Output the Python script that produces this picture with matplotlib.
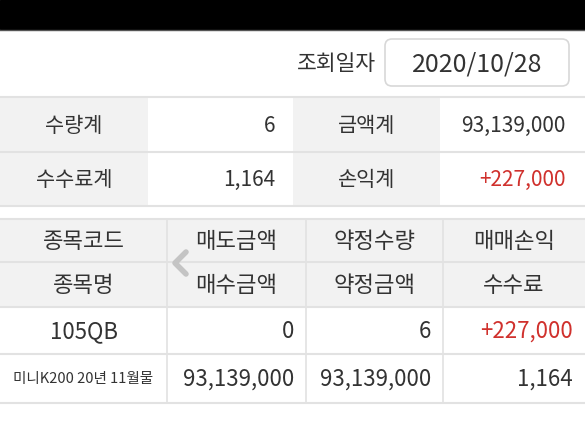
import matplotlib
matplotlib.use("Agg")
import matplotlib.pyplot as plt
from matplotlib.patches import Rectangle, FancyBboxPatch

plt.rcParams["font.family"] = ["Noto Sans CJK KR", "DejaVu Sans"]

# data
query_label = "조회일자"
query_date = "2020/10/28"

summary_labels = [["수량계", "금액계"], ["수수료계", "손익계"]]
summary_values = [["6", "93,139,000"], ["1,164", "+227,000"]]
summary_red = [[False, False], [False, True]]

header_top = ["종목코드", "매도금액", "약정수량", "매매손익"]
header_bottom = ["종목명", "매수금액", "약정금액", "수수료"]
row_top = ["105QB", "0", "6", "+227,000"]
row_bottom = ["미니K200 20년 11월물", "93,139,000", "93,139,000", "1,164"]
row_top_red = [False, False, False, True]

TXT = "#333333"
RED = "#d0312d"
GRAY_BG = "#f2f2f2"
LINE = "#e2e2e2"

W, H = 585, 426
fig = plt.figure(figsize=(W / 100, H / 100), dpi=100)
ax = fig.add_axes([0, 0, 1, 1])
ax.set_xlim(0, W)
ax.set_ylim(H, 0)
ax.axis("off")

# zwarte balk bovenaan
ax.add_patch(Rectangle((0, 0), W, 29, color="black"))
ax.plot([0, W], [29.5, 29.5], color="#555555", lw=1)

# datum
ax.text(336, 64, query_label, ha="center", va="center", fontsize=15.5, color=TXT)
ax.add_patch(FancyBboxPatch((385, 39), 184, 47, boxstyle="round,pad=0,rounding_size=7",
                            fc="white", ec="#d8d8d8", lw=1.2))
ax.text(477, 64, query_date, ha="center", va="center", fontsize=18, color=TXT)

# samenvatting
s_rows = [(97, 152), (152, 206)]
s_label_cols = [(0, 148), (293, 440)]
s_value_right = [275, 566]
for r, (y0, y1) in enumerate(s_rows):
    for c in range(2):
        x0, x1 = s_label_cols[c]
        ax.add_patch(Rectangle((x0, y0), x1 - x0, y1 - y0, color=GRAY_BG, lw=0))
        ax.text((x0 + x1) / 2, (y0 + y1) / 2 + 1, summary_labels[r][c], ha="center", va="center",
                fontsize=15, color=TXT)
        ax.text(s_value_right[c], (y0 + y1) / 2 + 1, summary_values[r][c], ha="right", va="center",
                fontsize=15, color=RED if summary_red[r][c] else TXT)
for y in [97, 152, 206]:
    ax.plot([0, W], [y, y], color=LINE, lw=1.5)

# detailtabel
FS = 16
cols = [(0, 167), (167, 306), (306, 443), (443, W)]
hdr_rows = [(219, 262), (262, 307)]
body_rows = [(307, 354), (354, 403)]
ax.add_patch(Rectangle((0, 219), W, 307 - 219, color=GRAY_BG, lw=0))

for c, (x0, x1) in enumerate(cols):
    xc = (x0 + x1) / 2
    ax.text(xc, sum(hdr_rows[0]) / 2 + 1, header_top[c], ha="center", va="center", fontsize=FS, color=TXT)
    ax.text(xc, sum(hdr_rows[1]) / 2 + 1, header_bottom[c], ha="center", va="center", fontsize=FS, color=TXT)
    if c == 0:
        ax.text(xc, sum(body_rows[0]) / 2 + 1, row_top[c], ha="center", va="center", fontsize=FS, color=TXT)
        ax.text(xc, sum(body_rows[1]) / 2, row_bottom[c], ha="center", va="center", fontsize=10.5, color=TXT)
    else:
        ax.text(x1 - 12, sum(body_rows[0]) / 2 + 1, row_top[c], ha="right", va="center", fontsize=FS,
                color=RED if row_top_red[c] else TXT)
        ax.text(x1 - 12, sum(body_rows[1]) / 2 + 1, row_bottom[c], ha="right", va="center", fontsize=FS,
                color=TXT)

for y in [219, 262, 307, 354, 403]:
    ax.plot([0, W], [y, y], color=LINE, lw=1.5)
for x in [167, 306, 443]:
    ax.plot([x, x], [219, 403], color=LINE, lw=1.2)

# scroll-pijltje
ax.plot([186, 175, 186], [252, 263, 274], color="#c4c4c4", lw=4, solid_capstyle="round",
        solid_joinstyle="round")

fig.savefig("out.png", dpi=100)
